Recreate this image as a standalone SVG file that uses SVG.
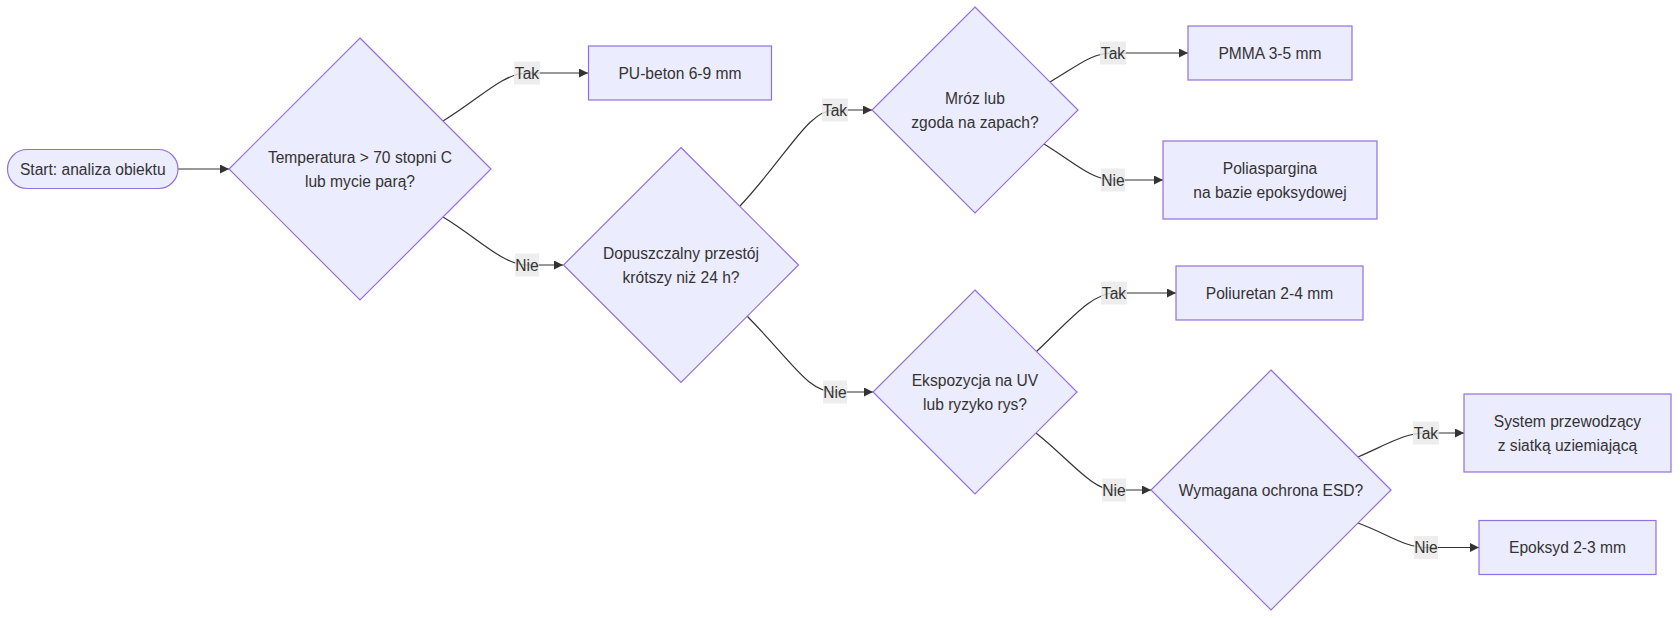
<svg xmlns="http://www.w3.org/2000/svg" width="1680" height="618" viewBox="0 0 1680 618">
<style>
.node{fill:#ECECFF;stroke:#9370DB;stroke-width:1.2}
.t{font-family:"Liberation Sans",Arial,Helvetica,sans-serif;font-size:15.6px;fill:#333;text-anchor:middle;dominant-baseline:central}
.edge{fill:none;stroke:#333;stroke-width:1.2}
.lbg{fill:#e8e8e8;opacity:0.8}
</style>
<defs>
<marker id="arr" viewBox="0 0 10 10" refX="10" refY="5" markerWidth="9" markerHeight="9" markerUnits="userSpaceOnUse" orient="auto">
<path d="M0,0 L10,5 L0,10 z" fill="#333"/>
</marker>
</defs>
<rect width="1680" height="618" fill="#ffffff"/>
<g id="connectors">
<path class="edge" marker-end="url(#arr)" d="M178,169 L229,169"/>
<path class="edge" marker-end="url(#arr)" d="M443,121 C478,100 503,73 527,73 L588,73"/>
<path class="edge" marker-end="url(#arr)" d="M443,217 C478,238 503,265 527,265 L563,265"/>
<path class="edge" marker-end="url(#arr)" d="M740,206 C790,152 808,110 835,110 L872,110"/>
<path class="edge" marker-end="url(#arr)" d="M747,316 C795,365 808,392 835,392 L873,392"/>
<path class="edge" marker-end="url(#arr)" d="M1050,82 C1080,64 1092,53 1113,53 L1188,53"/>
<path class="edge" marker-end="url(#arr)" d="M1044,144 C1075,163 1092,180 1113,180 L1163,180"/>
<path class="edge" marker-end="url(#arr)" d="M1036,352 C1070,320 1092,293 1114,293 L1176,293"/>
<path class="edge" marker-end="url(#arr)" d="M1036,433 C1070,460 1092,490 1114,490 L1151,490"/>
<path class="edge" marker-end="url(#arr)" d="M1358,457 C1390,443 1405,433 1426,433 L1464,433"/>
<path class="edge" marker-end="url(#arr)" d="M1358,523 C1390,535 1405,547.5 1426,547.5 L1479,547.5"/>
</g>
<g id="edge-labels">
<g><rect class="lbg" x="514" y="61.5" width="26" height="23"/><text class="t" x="527" y="73">Tak</text></g>
<g><rect class="lbg" x="515" y="253.5" width="24" height="23"/><text class="t" x="527" y="265">Nie</text></g>
<g><rect class="lbg" x="822" y="98.5" width="26" height="23"/><text class="t" x="835" y="110">Tak</text></g>
<g><rect class="lbg" x="823" y="380.5" width="24" height="23"/><text class="t" x="835" y="392">Nie</text></g>
<g><rect class="lbg" x="1100" y="41.5" width="26" height="23"/><text class="t" x="1113" y="53">Tak</text></g>
<g><rect class="lbg" x="1101" y="168.5" width="24" height="23"/><text class="t" x="1113" y="180">Nie</text></g>
<g><rect class="lbg" x="1101" y="281.5" width="26" height="23"/><text class="t" x="1114" y="293">Tak</text></g>
<g><rect class="lbg" x="1102" y="478.5" width="24" height="23"/><text class="t" x="1114" y="490">Nie</text></g>
<g><rect class="lbg" x="1413" y="421.5" width="26" height="23"/><text class="t" x="1426" y="433">Tak</text></g>
<g><rect class="lbg" x="1414" y="536" width="24" height="23"/><text class="t" x="1426" y="547.5">Nie</text></g>
</g>
<g id="start">
<rect class="node" x="7.5" y="149.5" width="170.5" height="39" rx="19.5" ry="19.5"/>
<text class="t" x="92.75" y="169">Start: analiza obiektu</text>
</g>
<g id="q-temp">
<polygon class="node" points="360,38 491,169 360,300 229,169"/>
<text class="t" x="360" y="157">Temperatura &gt; 70 stopni C</text>
<text class="t" x="360" y="181">lub mycie parą?</text>
</g>
<g id="pu-beton">
<rect class="node" x="588.5" y="46" width="183" height="54"/>
<text class="t" x="680" y="73">PU-beton 6-9 mm</text>
</g>
<g id="q-przestoj">
<polygon class="node" points="681,147.5 798.5,265 681,382.5 563.5,265"/>
<text class="t" x="681" y="253">Dopuszczalny przestój</text>
<text class="t" x="681" y="277">krótszy niż 24 h?</text>
</g>
<g id="q-mroz">
<polygon class="node" points="975,7 1078,110 975,213 872,110"/>
<text class="t" x="975" y="98">Mróz lub</text>
<text class="t" x="975" y="122">zgoda na zapach?</text>
</g>
<g id="pmma">
<rect class="node" x="1188" y="26" width="164" height="54"/>
<text class="t" x="1270" y="53">PMMA 3-5 mm</text>
</g>
<g id="poliaspargina">
<rect class="node" x="1163" y="141" width="214" height="78"/>
<text class="t" x="1270" y="168">Poliaspargina</text>
<text class="t" x="1270" y="192">na bazie epoksydowej</text>
</g>
<g id="q-uv">
<polygon class="node" points="975,290 1077,392 975,494 873,392"/>
<text class="t" x="975" y="380">Ekspozycja na UV</text>
<text class="t" x="975" y="404">lub ryzyko rys?</text>
</g>
<g id="poliuretan">
<rect class="node" x="1176" y="266" width="187" height="54"/>
<text class="t" x="1269.5" y="293">Poliuretan 2-4 mm</text>
</g>
<g id="q-esd">
<polygon class="node" points="1271,370 1391,490 1271,610 1151,490"/>
<text class="t" x="1271" y="490">Wymagana ochrona ESD?</text>
</g>
<g id="system-przewodzacy">
<rect class="node" x="1464" y="394" width="207" height="78"/>
<text class="t" x="1567.5" y="421">System przewodzący</text>
<text class="t" x="1567.5" y="445">z siatką uziemiającą</text>
</g>
<g id="epoksyd">
<rect class="node" x="1479" y="520.5" width="177" height="54"/>
<text class="t" x="1567.5" y="547.5">Epoksyd 2-3 mm</text>
</g>
</svg>
